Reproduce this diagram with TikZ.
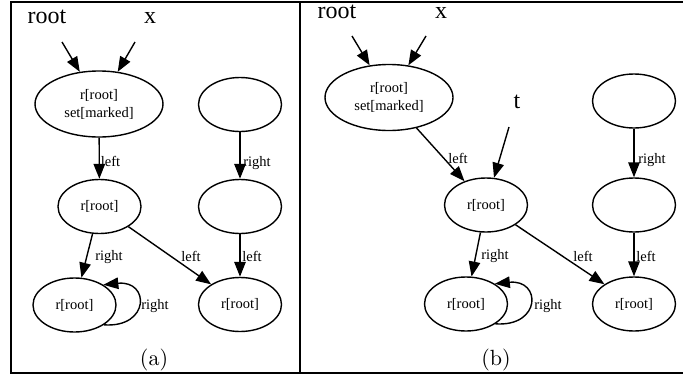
\documentclass[tikz,border=0pt]{standalone}
\usepackage{fontspec}
\newfontfamily\tms{Liberation Serif}
\usetikzlibrary{shapes.geometric,arrows.meta,calc}
\begin{document}
\begin{tikzpicture}[x=1pt,y=-1pt,
  nd/.style={ellipse,draw,line width=1.4pt,minimum width=83pt,minimum height=54pt,inner sep=0pt,
             font=\tms\fontsize{14.5}{18}\selectfont,align=center},
  bignd/.style={nd,minimum width=128pt,minimum height=66pt},
  arr/.style={-{Triangle[length=15pt,width=11.5pt]},line width=1.4pt},
  elbl/.style={font=\tms\fontsize{14.5}{17}\selectfont,inner sep=0pt,anchor=base},
  vlbl/.style={font=\tms\fontsize{24}{28}\selectfont,inner sep=0pt,anchor=base},
  captxt/.style={inner sep=0pt,anchor=base},
  frm/.style={line width=1.8pt}]
\useasboundingbox (0,0) rectangle (683,375);
% frame
\draw[frm] (685,2) -- (11,2) -- (11,373) -- (685,373);
\draw[frm] (300,2) -- (300,373);

% ---------------- panel (a)
\node[bignd] (A1) at (99,104) {r[root]\\set[marked]};
\node[nd]  (A2) at (240,104.5) {};
\node[nd]  (A3) at (99.5,206.5) {r[root]};
\node[nd]  (A4) at (240,206.5) {};
\node[nd]  (A5) at (74.5,305) {r[root]};
\node[nd]  (A6) at (240,304.5) {r[root]};
\node[vlbl] (rootA) at (47,23) {root};
\node[vlbl] (xA) at (150,23) {x};
\coordinate (rAt) at (62,42);
\coordinate (xAt) at (135,42);
\draw[arr] (rAt) -- (A1);
\draw[arr] (xAt) -- (A1);
\draw[arr] (A1) -- (A3);
\draw[arr] (A2) -- (A4);
\draw[arr] (A3) -- (A5);
\draw[arr] (A3) -- (A6);
\draw[arr] (A4) -- (A6);
\draw[arr] (A5.-34) .. controls ($(A5)+(75.5,23)$) and ($(A5)+(75.5,-25)$) .. (A5.35);
\node[elbl] (lA1) at (110.5,166) {left};
\node[elbl] (lA2) at (257,166) {right};
\node[elbl] (lA3) at (109,260) {right};
\node[elbl] (lA4) at (191,261) {left};
\node[elbl] (lA5) at (252,261) {left};
\node[elbl] (lA6) at (155,309) {right};
\node[captxt] (capA) at (154,365.5) {\scalebox{2.2}{(a)}};

% ---------------- panel (b)
\node[bignd] (B1) at (389,97.5) {r[root]\\set[marked]};
\node[nd]  (B2) at (634,101) {};
\node[nd]  (B3) at (486,205) {r[root]};
\node[nd]  (B4) at (634,205) {};
\node[nd]  (B5) at (466,304) {r[root]};
\node[nd]  (B6) at (634,304) {r[root]};
\node[vlbl] (rootB) at (337,18) {root};
\node[vlbl] (xB) at (441,18) {x};
\node[vlbl] (tB) at (517,108) {t};
\coordinate (rBt) at (352,36);
\coordinate (xBt) at (426,36);
\coordinate (tBt) at (509,127);
\draw[arr] (rBt) -- (B1);
\draw[arr] (xBt) -- (B1);
\draw[arr] (tBt) -- (B3);
\draw[arr] (B1) -- (B3);
\draw[arr] (B2) -- (B4);
\draw[arr] (B3) -- (B5);
\draw[arr] (B3) -- (B6);
\draw[arr] (B4) -- (B6);
\draw[arr] (B5.-34) .. controls ($(B5)+(75.5,23)$) and ($(B5)+(75.5,-25)$) .. (B5.35);
\node[elbl] (lB1) at (458,163) {left};
\node[elbl] (lB2) at (652,163) {right};
\node[elbl] (lB3) at (495,259) {right};
\node[elbl] (lB4) at (583,261) {left};
\node[elbl] (lB5) at (646,261) {left};
\node[elbl] (lB6) at (548,309) {right};
\node[captxt] (capB) at (496,365.5) {\scalebox{2.2}{(b)}};
\end{tikzpicture}
\end{document}
